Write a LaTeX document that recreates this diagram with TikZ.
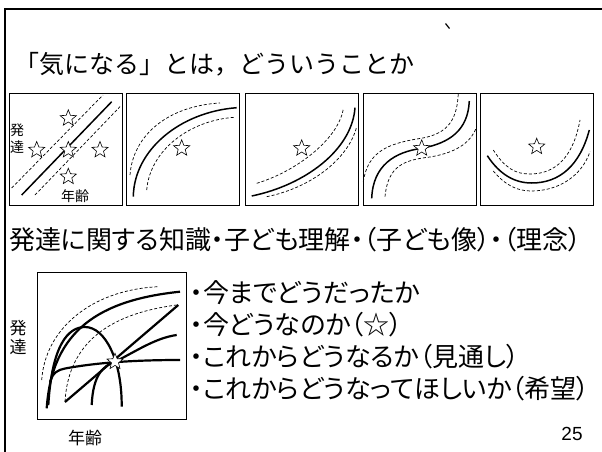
\documentclass[tikz,border=0pt]{standalone}
\usepackage{fontspec}
\setmainfont{Noto Sans CJK JP}
\newfontfamily\pfont{Noto Sans CJK JP}[RawFeature=+palt]
\newfontfamily\numfont{Liberation Sans}
\usetikzlibrary{shapes.geometric}
\tikzstyle{panel}=[rectangle, draw, line width=0.8pt, minimum width=113pt, minimum height=112pt, inner sep=0pt]
\tikzstyle{bigpanel}=[rectangle, draw, line width=0.8pt, minimum width=149pt, minimum height=147pt, inner sep=0pt]
\tikzstyle{starmark}=[star, star points=5, star point ratio=2.3, draw, fill=white, line width=0.6pt, minimum size=17pt, inner sep=0pt]
\tikzstyle{curve}=[line width=1.5pt]
\tikzstyle{boldcurve}=[line width=2.2pt]
\tikzstyle{dcurve}=[line width=0.7pt, dash pattern=on 3pt off 2pt]
\tikzstyle{titletext}=[inner sep=0pt, anchor=west, font=\fontsize{25}{30}\selectfont]
\tikzstyle{bodytext}=[inner sep=0pt, anchor=west, font=\pfont\fontsize{26}{30}\selectfont]
\tikzstyle{listtext}=[inner sep=0pt, anchor=west, font=\pfont\fontsize{26}{30}\selectfont]
\tikzstyle{smalltext}=[inner sep=0pt, align=center, font=\fontsize{14}{17}\selectfont]
\tikzstyle{axistext}=[inner sep=0pt, align=center, font=\fontsize{17}{19}\selectfont]

\begin{document}
\begin{tikzpicture}[x=1pt,y=-1pt]
\useasboundingbox (0,0) rectangle (602,452);

% frame of the slide
\draw[line width=2pt] (602,9) -- (5,9) -- (5,452);
\draw[line width=1.2pt] (445.5,23.5) -- (449.5,28.5);

\node[titletext] (title) at (14,64) {「気になる」とは，どういうことか};

% five small panels
\node[panel] (q1) at (66,149) {};
\node[panel] (q2) at (182.5,149) {};
\node[panel] (q3) at (302,149) {};
\node[panel] (q4) at (420,149) {};
\node[panel] (q5) at (537,149) {};

% panel 1
\draw[dcurve] (11.7,188) -- (103,95);
\draw[curve] (21.7,195) -- (111.7,101.7);
\draw[dcurve] (35,195) -- (120,106.7);
\node[starmark] (s11) at (68.3,118.3) {};
\node[starmark] (s12) at (36.7,150) {};
\node[starmark] (s13) at (68.3,150) {};
\node[starmark] (s14) at (100,150) {};
\node[starmark] (s15) at (68.3,176.7) {};
\node[smalltext] (dev1) at (17,139) {発\\達};
\node[smalltext] (age1) at (75,196) {年齢};

% panel 2
\draw[dcurve] (130,175) .. controls (133,135) and (168,106) .. (220,103);
\draw[curve] (133.3,196.7) .. controls (134,150) and (180,112) .. (236.7,107.7);
\draw[dcurve] (146.7,190) .. controls (150,150) and (190,120) .. (235,117.3);
\node[starmark] (s2) at (181.7,148.3) {};

% panel 3
\draw[dcurve] (256.7,183.3) .. controls (295,172) and (338,140) .. (343.3,109);
\draw[curve] (251.7,196) .. controls (305,185) and (352,150) .. (355,107.7);
\draw[dcurve] (266.7,196.7) .. controls (310,188) and (348,160) .. (356.7,126.7);
\node[starmark] (s3) at (301.7,148.3) {};

% panel 4
\draw[dcurve] (363.3,181.7) .. controls (368,150) and (390,143) .. (423,138)
  .. controls (448,133) and (457,120) .. (458.3,93.3);
\draw[curve] (371.7,198.3) .. controls (373,165) and (395,152) .. (421.7,148.3)
  .. controls (450,143) and (468,130) .. (469.3,101);
\draw[dcurve] (385,196.7) .. controls (388,165) and (405,160) .. (430,157)
  .. controls (460,152) and (472,140) .. (476.7,126.7);
\node[starmark] (s4) at (421.7,148.3) {};

% panel 5
\draw[dcurve] (493.3,150) .. controls (505,168) and (515,174) .. (530,174)
  .. controls (555,174) and (573,158) .. (580,120);
\draw[curve] (487.3,155.7) .. controls (500,175) and (515,183) .. (531.7,183)
  .. controls (560,183) and (580,165) .. (589.3,130);
\draw[dcurve] (493.3,171) .. controls (505,185) and (517,191) .. (531,191)
  .. controls (560,191) and (582,175) .. (590,151.7);
\node[starmark] (s5) at (536.7,146.7) {};

\node[bodytext] (know) at (9,240) {発達に関する知識・子ども理解・（子ども像）・（理念）};

% large panel
\node[bigpanel] (big) at (111.5,345.5) {};
\draw[dcurve] (41.7,380) .. controls (45,330) and (90,290) .. (158.3,286.7);
\draw[boldcurve] (46.7,408.3) .. controls (52,330) and (100,300) .. (180,291.7);
\draw[boldcurve] (48.3,405) .. controls (52,345) and (68,327) .. (85,327)
  .. controls (105,327) and (122,360) .. (121.7,406.7);
\draw[dcurve] (65,401.7) .. controls (68,350) and (100,315) .. (176.7,305);
\draw[boldcurve] (65,402) -- (178.3,305);
\draw[boldcurve] (91.7,405) .. controls (93,375) and (103,366) .. (115,361.7)
  .. controls (135,352) and (155,338) .. (176.7,335);
\draw[boldcurve] (50,382) .. controls (53,372) and (58,370) .. (65,368.5)
  .. controls (100,362) and (140,360) .. (180,360);
\node[starmark] (snow) at (115,361.7) {};
\node[axistext] (dev) at (18,337) {発\\達};
\node[axistext] (age) at (85,438) {年齢};

% list on the right
\node[listtext] (b1) at (190,293) {・今までどうだったか};
\node[listtext] (b2) at (190,325) {・今どうなのか（☆）};
\node[listtext] (b3) at (190,357) {・これからどうなるか（見通し）};
\node[listtext] (b4) at (190,389) {・これからどうなってほしいか（希望）};

\node[inner sep=0pt, font=\numfont\fontsize{19}{22}\selectfont] (page) at (572,434) {25};
\end{tikzpicture}
\end{document}
